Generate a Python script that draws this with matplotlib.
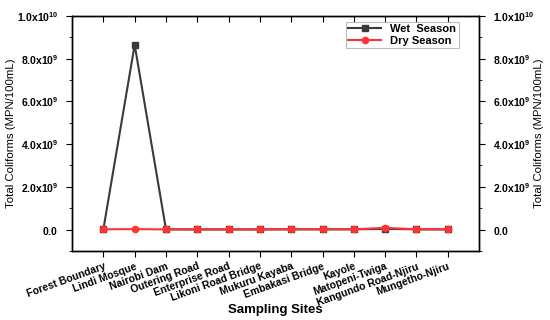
import math
import matplotlib
matplotlib.use("Agg")
import matplotlib.pyplot as plt
from matplotlib.ticker import FuncFormatter, MultipleLocator

sites = ["Forest Boundary", "Lindi Mosque", "Nairobi Dam", "Outering Road", "Enterprise Road",
         "Likoni Road Bridge", "Mukuru Kayaba", "Embakasi Bridge", "Kayole", "Matopeni-Twiga",
         "Kangundo Road-Njiru", "Mungetho-Njiru"]
wet = [1.0e7, 8.65e9, 1.0e7, 5e6, 5e6, 5e6, 1e7, 1e7, 1e7, 3e7, 1e7, 5e6]
dry = [1.0e7, 2.0e7, 5e6, 5e6, 5e6, 5e6, 1e7, 1e7, 1e7, 8e7, 1e7, 1e7]
yticks = [0, 2e9, 4e9, 6e9, 8e9, 1e10]

plt.rcParams['font.family'] = ['Liberation Sans', 'DejaVu Sans']
plt.rcParams['mathtext.fontset'] = 'custom'
plt.rcParams['mathtext.rm'] = 'Liberation Sans'
plt.rcParams['mathtext.bf'] = 'Liberation Sans:bold'
plt.rcParams['mathtext.it'] = 'Liberation Sans:italic'

fig = plt.figure(figsize=(5.5, 3.2), dpi=100)
ax = fig.add_axes([0.131, 0.216, 0.74, 0.734])
x = list(range(1, len(sites) + 1))
ax.plot(x, wet, color='#3a3a3a', marker='s', markersize=4, lw=1.5, label='Wet  Season', zorder=2)
ax.plot(x, dry, color='#ff3333', marker='o', markersize=4.5, lw=1.5, label='Dry Season', zorder=3)

ax.set_xlim(0, 13)
ax.set_ylim(-1e9, 1e10)

def fmt(v, pos):
    if v == 0:
        return r"$\mathbf{0.0}$"
    e = int(math.floor(math.log10(abs(v)) + 1e-9))
    m = v / 10**e
    return r"$\mathbf{%.1fx10^{%d}}$" % (m, e)

ax.set_yticks(yticks)
ax.yaxis.set_major_formatter(FuncFormatter(fmt))
ax.yaxis.set_minor_locator(MultipleLocator(1e9))
ax.set_xticks(x)
ax.set_xticklabels(sites, rotation=20, ha='right', rotation_mode='anchor', fontsize=7.5, fontweight='bold')
ax.tick_params(axis='y', which='both', direction='out', labelsize=7.5, pad=6)
ax.tick_params(axis='y', which='major', length=4)
ax.tick_params(axis='y', which='minor', length=2)
ax.tick_params(axis='x', direction='out', length=4, top=True, labeltop=False)
ax.set_ylabel("Total Coliforms (MPN/100mL)", fontsize=8.2)
ax.yaxis.set_label_coords(-0.138, 0.5)
ax.set_xlabel("Sampling Sites", fontsize=9.5, fontweight='bold')
ax.xaxis.set_label_coords(0.5, -0.225)

ax2 = ax.twinx()
ax2.set_ylim(-1e9, 1e10)
ax2.set_yticks(yticks)
ax2.yaxis.set_major_formatter(FuncFormatter(fmt))
ax2.yaxis.set_minor_locator(MultipleLocator(1e9))
ax2.tick_params(axis='y', which='both', direction='out', labelsize=7.5, pad=6)
ax2.tick_params(axis='y', which='major', length=4)
ax2.tick_params(axis='y', which='minor', length=2)
ax2.set_ylabel("Total Coliforms (MPN/100mL)", fontsize=8.2)
ax2.yaxis.set_label_coords(1.135, 0.5)

for t in ax.xaxis.get_major_ticks():
    t.tick2line.set_marker(3)

for a in (ax, ax2):
    for s in a.spines.values():
        s.set_linewidth(1.0)

leg = ax.legend(loc='upper right', bbox_to_anchor=(0.955, 0.985), frameon=True,
                fancybox=False, edgecolor='#aaaaaa', borderpad=0.2, handlelength=3,
                labelspacing=0.2, borderaxespad=0.2, prop={'weight': 'bold', 'size': 8})
leg.get_frame().set_linewidth(0.8)

fig.savefig("out.png", dpi=100)
